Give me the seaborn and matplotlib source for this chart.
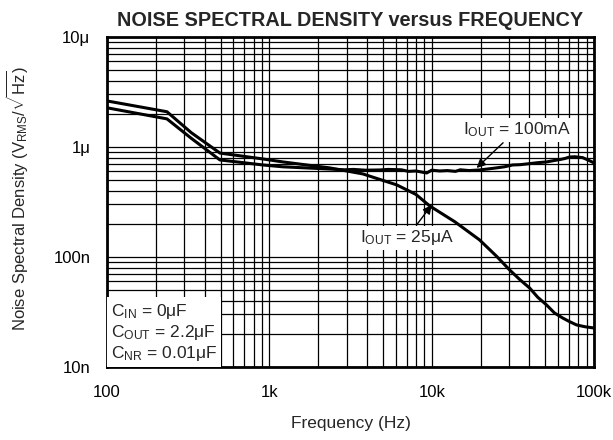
import matplotlib
matplotlib.use("Agg")
import matplotlib.pyplot as plt
import numpy as np
import pandas as pd
import seaborn as sns

# values (frequency in Hz, density in V/sqrt(Hz))
freq_100ma = [100, 234, 330, 496, 912, 1211, 2356, 2900, 3300, 3900, 4786, 5400, 6500, 7200,
              8000, 9311, 10000, 11200, 12500, 14000, 15000, 17000, 19730, 22000, 25000,
              28000, 31500, 35000, 40000, 45000, 51000, 56000, 62000, 66000, 70700, 76000,
              85000, 92000, 100000]
nsd_100ma = [2.27e-6, 1.80e-6, 1.20e-6, 0.762e-6, 0.686e-6, 0.66e-6, 0.63e-6, 0.62e-6,
             0.625e-6, 0.615e-6, 0.618e-6, 0.625e-6, 0.62e-6, 0.6e-6, 0.605e-6, 0.58e-6,
             0.615e-6, 0.605e-6, 0.61e-6, 0.6e-6, 0.62e-6, 0.61e-6, 0.618e-6, 0.63e-6,
             0.645e-6, 0.66e-6, 0.686e-6, 0.69e-6, 0.705e-6, 0.72e-6, 0.731e-6, 0.75e-6,
             0.77e-6, 0.785e-6, 0.81e-6, 0.815e-6, 0.80e-6, 0.76e-6, 0.716e-6]

freq_25ua = [100, 234, 330, 496, 912, 1211, 2356, 3760, 6090, 8000, 9720, 13870, 19700,
             25000, 30200, 35000, 40100, 45000, 51000, 57000, 64000, 70000, 78000, 88000,
             100000]
nsd_25ua = [2.62e-6, 2.09e-6, 1.35e-6, 0.88e-6, 0.778e-6, 0.731e-6, 0.645e-6, 0.569e-6,
            0.452e-6, 0.37e-6, 0.291e-6, 0.209e-6, 0.143e-6, 0.102e-6, 76.2e-9, 62e-9,
            52.2e-9, 43e-9, 36.6e-9, 31e-9, 27.9e-9, 26e-9, 24.1e-9, 23.2e-9, 22.6e-9]

x_ticks = [100, 1000, 10000, 100000]
x_labels = ["100", "1k", "10k", "100k"]
y_ticks = [10e-9, 100e-9, 1e-6, 10e-6]
y_labels = ["10n", "100n", "1\u03bc", "10\u03bc"]

sns.set_style("white")
plt.rcParams["font.family"] = ["Liberation Sans", "DejaVu Sans"]
plt.rcParams["mathtext.fontset"] = "custom"
plt.rcParams["mathtext.rm"] = "Liberation Sans"
plt.rcParams["mathtext.it"] = "Liberation Sans:italic"

df = pd.concat([
    pd.DataFrame({"f": freq_100ma, "v": nsd_100ma, "s": "100mA"}),
    pd.DataFrame({"f": freq_25ua, "v": nsd_25ua, "s": "25uA"}),
])

fig = plt.figure(figsize=(6.13, 4.4), dpi=100)
ax = fig.add_axes([0.1746, 0.166, 0.7945, 0.75])

sns.lineplot(data=df, x="f", y="v", units="s", estimator=None, sort=False,
             color="black", linewidth=2.2, ax=ax, legend=False)

ax.set_xscale("log")
ax.set_yscale("log")
ax.set_xlim(100, 100000)
ax.set_ylim(10e-9, 10e-6)

ax.set_xticks(x_ticks)
ax.set_xticklabels(x_labels)
ax.set_yticks(y_ticks)
ax.set_yticklabels(y_labels)
ax.xaxis.set_minor_locator(matplotlib.ticker.LogLocator(base=10, subs=np.arange(2, 10)))
ax.yaxis.set_minor_locator(matplotlib.ticker.LogLocator(base=10, subs=np.arange(2, 10)))
ax.xaxis.set_minor_formatter(matplotlib.ticker.NullFormatter())
ax.yaxis.set_minor_formatter(matplotlib.ticker.NullFormatter())
ax.tick_params(which="both", length=0, labelsize=12, colors="black")
ax.tick_params(axis="x", pad=13)
ax.tick_params(axis="y", pad=12)

ax.grid(True, which="both", color="black", linewidth=0.9)
ax.set_axisbelow(True)
for sp in ax.spines.values():
    sp.set_color("black")
    sp.set_linewidth(2.0)

ax.set_title("NOISE SPECTRAL DENSITY versus FREQUENCY", fontsize=14.3,
             fontweight="bold", pad=8)
ax.set_xlabel("Frequency (Hz)", fontsize=12.5)
ax.xaxis.set_label_coords(0.5, -0.15)
ax.set_ylabel(r"Noise Spectral Density (V$_{\mathrm{RMS}}$/$\sqrt{\mathrm{Hz}}$)",
              fontsize=12)
ax.yaxis.set_label_coords(-0.158, 0.51)

bg = dict(boxstyle="square,pad=0.15", facecolor="white", edgecolor="none")
ax.annotate("I$_{\\mathrm{OUT}}$ = 100mA", xy=(18900, 0.644e-6), xytext=(33350, 1.43e-6),
            fontsize=12.5, ha="center", va="center", bbox=bg,
            arrowprops=dict(arrowstyle="-|>", color="black", lw=1.0,
                            shrinkA=1, shrinkB=0, mutation_scale=13))
ax.annotate("I$_{\\mathrm{OUT}}$ = 25\u03bcA", xy=(10000, 0.297e-6), xytext=(7020, 0.149e-6),
            fontsize=12.5, ha="center", va="center", bbox=bg,
            arrowprops=dict(arrowstyle="-|>", color="black", lw=1.0,
                            shrinkA=1, shrinkB=0, mutation_scale=13))

ax.text(0.008, 0.012,
        "C$_{\\mathrm{IN}}$ = 0\u03bcF\nC$_{\\mathrm{OUT}}$ = 2.2\u03bcF\nC$_{\\mathrm{NR}}$ = 0.01\u03bcF",
        transform=ax.transAxes, fontsize=12.5, ha="left", va="bottom",
        linespacing=1.15,
        bbox=dict(boxstyle="square,pad=0.25", facecolor="white", edgecolor="none"))

fig.savefig("out.png", dpi=100)
